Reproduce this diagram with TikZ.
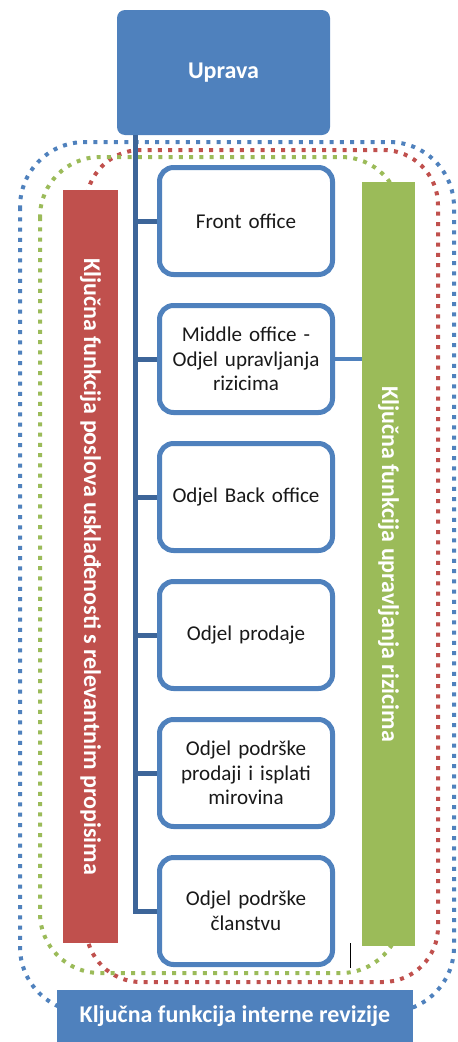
\documentclass[tikz,border=0pt]{standalone}
\usepackage{fontspec}
\setmainfont{Carlito}
\definecolor{ublue}{RGB}{79,129,189}
\definecolor{ured}{RGB}{192,80,77}
\definecolor{ugreen}{RGB}{155,187,89}
\definecolor{ulink}{RGB}{61,101,153}

\begin{document}
\begin{tikzpicture}[x=0.75pt,y=0.75pt,yscale=-1,xscale=1,
    dept/.style={draw=ublue, line width=3.75pt, fill=white, rounded corners=10.5pt, minimum width=129.75pt, minimum height=80.25pt, text width=125pt, align=center, inner sep=0pt, text=black!90, font=\fontsize{15.8}{18.5}\selectfont},
    bar/.style={rotate=-90, inner sep=0pt, text=white, font=\bfseries\fontsize{18}{21}\selectfont},
    frame/.style={line width=3pt, dash pattern=on 3pt off 4.7pt},
    link/.style={draw=ulink, line width=3.75pt}]
    %set diagram left start at 0, and has height of 1042
    \useasboundingbox (0,0) rectangle (457,1042);

    %Shape: Dotted Rounded Rect
    \draw [frame, ublue, rounded corners=48.75pt] (20,142) rectangle (454,1012);
    \draw [frame, ured, rounded corners=41.25pt] (86,150) rectangle (438,982);
    \draw [frame, ugreen, rounded corners=45pt] (40,157) rectangle (401,973);

    %Shape: Rectangle
    \node [fill=ublue, rounded corners=6pt, minimum width=159.75pt, minimum height=93.75pt, inner sep=0pt, text=white, font=\bfseries\fontsize{18}{22}\selectfont] (uprava) at (223.5,72.5) {Uprava};
    \node [bar, fill=ured, minimum width=564.75pt, minimum height=41.25pt] (uskl) at (90.5,566.5) {Ključna funkcija poslova usklađenosti s relevantnim propisima};
    \node [bar, fill=ugreen, minimum width=573pt, minimum height=39.75pt] (rizik) at (388.5,564) {Ključna funkcija upravljanja rizicima};
    \node [fill=ublue, minimum width=267pt, minimum height=39pt, inner sep=0pt, text=white, font=\bfseries\fontsize{18}{21}\selectfont] (revizija) at (235,1016) {Ključna funkcija interne revizije};

    %Shape: Rounded Rect
    \node [dept] (front) at (246,221) {Front office};
    \node [dept] (middle) at (246,359) {Middle office -\\ Odjel upravljanja\\ rizicima};
    \node [dept] (back) at (246,497) {Odjel Back office};
    \node [dept] (prodaja) at (246,635) {Odjel prodaje};
    \node [dept] (podrska) at (246,773) {Odjel podrške\\ prodaji i isplati\\ mirovina};
    \node [dept] (clanstvo) at (246,911) {Odjel podrške\\ članstvu};

    %Straight Lines
    \coordinate (trunk) at (135,135);
    \draw [link] (trunk) |- (clanstvo.west);
    \foreach \n in {front,middle,back,prodaja,podrska}
        \draw [link] (trunk |- \n.west) -- (\n.west);
    \draw [draw=ublue, line width=2.5pt] (middle.east) -- (middle.east -| rizik.south);

    %Straight Lines
    \draw [line width=0.75pt] (350,943) -- (350,968);

\end{tikzpicture}
\end{document}
